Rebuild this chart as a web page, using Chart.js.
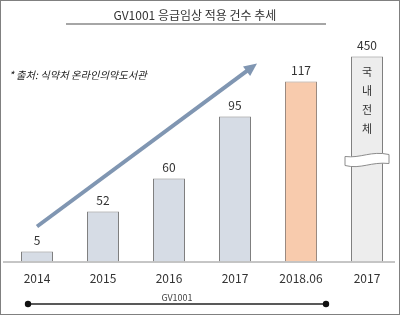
<!DOCTYPE html>
<html>
<head>
<meta charset="utf-8">
<script src="https://cdn.jsdelivr.net/npm/chart.js@4"></script>
<style>
  body { margin: 0; background: #fff; font-family: "Noto Sans CJK KR", "Noto Sans", sans-serif; }
  #wrap { position: relative; width: 400px; height: 315px; }
  #frame { position: absolute; left: 0; top: 0; width: 400px; height: 315px; box-sizing: border-box; border: 1px solid #808080; pointer-events: none; }
  canvas { position: absolute; left: 0; top: 0; }
  .title { position: absolute; left: 0; width: 390px; top: 5px; text-align: center; font-size: 12px; color: #333; line-height: 20px; }
  .rule { position: absolute; left: 66px; top: 23px; width: 260px; height: 2px; background: #a6a6a6; }
  .note { position: absolute; left: 9px; top: 66px; font-size: 10.3px; font-style: italic; color: #222; line-height: 18px; }
  .span-label { position: absolute; left: 127px; width: 100px; top: 291px; text-align: center; font-size: 9px; color: #444; line-height: 14px; }
</style>
</head>
<body>
<div id="wrap">
  <canvas id="chart" width="400" height="315"></canvas>
  <div class="title">GV1001 응급임상 적용 건수 추세</div>
  <div class="rule"></div>
  <div class="note">* 출처: 식약처 온라인의약도서관</div>
  <div class="span-label">GV1001</div>
  <div id="frame"></div>
</div>
<script>
// categories and values as printed on the chart
const categories = ['2014', '2015', '2016', '2017', '2018.06', '2017'];
const counts = [5, 52, 60, 95, 117, 450];
// bar heights as drawn in the picture (the bars are not to scale with the counts)
const drawnHeights = [10, 50, 83, 145, 180, 205];
const fills = ['#D6DCE5', '#D6DCE5', '#D6DCE5', '#D6DCE5', '#F8CBAD', '#EDEDED'];
const strokes = ['#7F7F7F', '#7F7F7F', '#7F7F7F', '#7F7F7F', '#9A8A80', '#7F7F7F'];
const totalLabel = ['국', '내', '전', '체'];

const extras = {
  id: 'extras',
  afterDatasetsDraw(chart) {
    const { ctx, scales: { x, y } } = chart;
    const base = y.getPixelForValue(0);
    ctx.save();

    // baseline
    ctx.strokeStyle = '#8C8C8C';
    ctx.lineWidth = 1;
    ctx.beginPath();
    ctx.moveTo(3, base + 0.5);
    ctx.lineTo(395, base + 0.5);
    ctx.stroke();

    // value labels + category labels
    ctx.fillStyle = '#333';
    ctx.font = '12px "Noto Sans CJK KR", sans-serif';
    ctx.textAlign = 'center';
    ctx.textBaseline = 'middle';
    const meta = chart.getDatasetMeta(0);
    meta.data.forEach((bar, i) => {
      ctx.fillText(String(counts[i]), bar.x, bar.y - 11.5);
      ctx.fillText(categories[i], x.getPixelForValue(i), base + 16.5);
    });

    // break mark on the total bar
    const last = meta.data[meta.data.length - 1];
    const L = last.x - 22, R = last.x + 22;
    const t = y.getPixelForValue(107), b = y.getPixelForValue(96);
    ctx.fillStyle = '#fff';
    ctx.strokeStyle = '#8C8C8C';
    ctx.beginPath();
    ctx.moveTo(L, t + 2);
    ctx.bezierCurveTo(L + 16, t + 4, R - 18, t - 4, R, t);
    ctx.lineTo(R, b - 2);
    ctx.bezierCurveTo(R - 18, b - 4, L + 16, b + 4, L, b);
    ctx.closePath();
    ctx.fill();
    ctx.stroke();

    // vertical text inside the total bar
    ctx.fillStyle = '#333';
    ctx.font = '11px "Noto Sans CJK KR", sans-serif';
    totalLabel.forEach((ch, k) => {
      ctx.fillText(ch, last.x, last.y + 15 + k * 19);
    });

    // trend arrow
    const x0 = x.getPixelForValue(0), y0 = y.getPixelForValue(35);
    const x1 = x.getPixelForValue(3) + 22, y1 = y.getPixelForValue(198);
    const ang = Math.atan2(y1 - y0, x1 - x0);
    const head = 13;
    ctx.strokeStyle = '#8096B2';
    ctx.fillStyle = '#8096B2';
    ctx.lineWidth = 4;
    ctx.beginPath();
    ctx.moveTo(x0, y0);
    ctx.lineTo(x1 - Math.cos(ang) * head * 0.8, y1 - Math.sin(ang) * head * 0.8);
    ctx.stroke();
    ctx.beginPath();
    ctx.moveTo(x1, y1);
    ctx.lineTo(x1 - head * Math.cos(ang) + 6 * Math.sin(ang), y1 - head * Math.sin(ang) - 6 * Math.cos(ang));
    ctx.lineTo(x1 - head * Math.cos(ang) - 6 * Math.sin(ang), y1 - head * Math.sin(ang) + 6 * Math.cos(ang));
    ctx.closePath();
    ctx.fill();

    // GV1001 span line
    const sx0 = 28, sx1 = 326, sy = 304;
    ctx.strokeStyle = '#222';
    ctx.fillStyle = '#111';
    ctx.lineWidth = 1.5;
    ctx.beginPath();
    ctx.moveTo(sx0, sy);
    ctx.lineTo(sx1, sy);
    ctx.stroke();
    [sx0, sx1].forEach(px => {
      ctx.beginPath();
      ctx.arc(px, sy, 3.2, 0, Math.PI * 2);
      ctx.fill();
    });

    ctx.restore();
  }
};

new Chart(document.getElementById('chart'), {
  type: 'bar',
  data: {
    labels: categories,
    datasets: [{
      data: drawnHeights,
      backgroundColor: fills,
      borderColor: strokes,
      borderWidth: 1,
      barPercentage: 0.485,
      categoryPercentage: 1
    }]
  },
  options: {
    responsive: false,
    animation: false,
    layout: { padding: { left: 4, right: 0, top: 46.5, bottom: 53.5 } },
    plugins: { legend: { display: false }, tooltip: { enabled: false } },
    scales: {
      x: { display: false },
      y: { display: false, min: 0, max: 215 }
    }
  },
  plugins: [extras]
});
</script>
</body>
</html>
